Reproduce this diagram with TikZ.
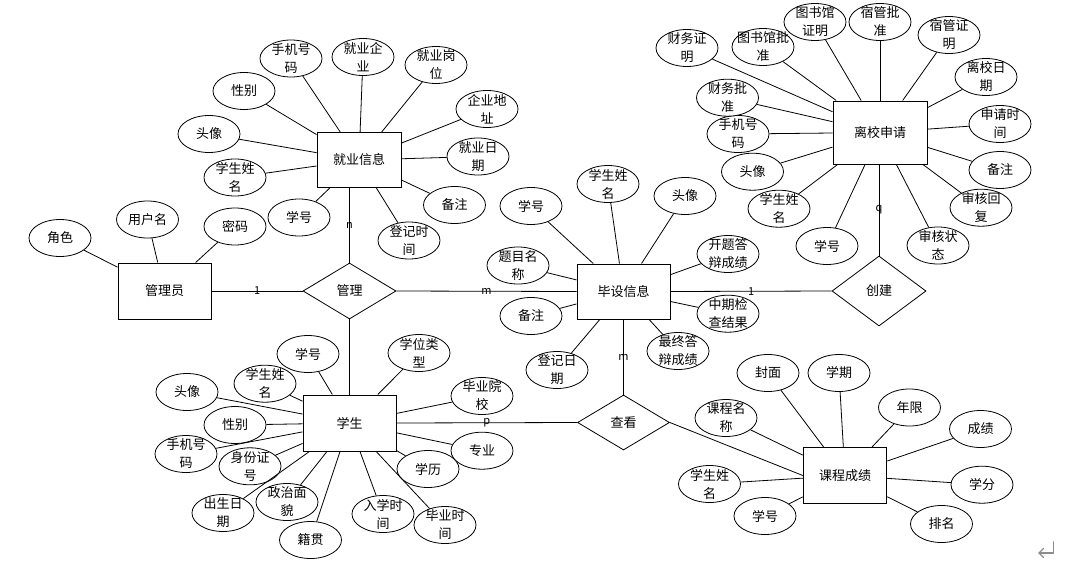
\documentclass[tikz,border=0pt]{standalone}
\usepackage{fontspec}
\setmainfont{Noto Sans CJK SC}
\usetikzlibrary{shapes.geometric}
\tikzset{
  ent/.style={draw, line width=1pt, rectangle, inner sep=0pt, fill=white},
  rel/.style={draw, line width=0.8pt, diamond, inner sep=0pt, fill=white},
  attr/.style={draw, line width=0.8pt, ellipse, minimum width=62pt, minimum height=37pt, inner sep=0pt, fill=white},
  lbl/.style={align=center, inner sep=0pt, font=\fontsize{13pt}{18pt}\selectfont},
  conn/.style={draw, line width=0.8pt},
  card/.style={inner sep=0pt, font=\fontsize{11pt}{13pt}\selectfont},
  retmark/.style={draw=black!45, line width=1.3pt, line cap=round, line join=round}
}
\newcommand\attrnode[3]{\node[attr, label={[lbl]center:{#3}}] (#1) at (#2) {};}
\begin{document}
\begin{tikzpicture}[x=1pt, y=-1pt, font=\fontsize{13pt}{18pt}\selectfont]
\useasboundingbox (0,0) rectangle (1074,581);
% entities
\node[ent, minimum width=93pt, minimum height=56pt] (gly) at (164.5,291) {管理员};
\node[ent, minimum width=84pt, minimum height=55pt] (jy) at (359,160) {就业信息};
\node[ent, minimum width=93pt, minimum height=55pt] (bs) at (623.5,291.5) {毕设信息};
\node[ent, minimum width=94pt, minimum height=63pt] (lx) at (880,132.5) {离校申请};
\node[ent, minimum width=93pt, minimum height=56pt] (xs) at (349.5,423) {学生};
\node[ent, minimum width=83.5pt, minimum height=56pt] (kc) at (845,475.5) {课程成绩};
% relationships
\node[rel, minimum width=93pt, minimum height=56pt] (gl) at (349.5,291) {管理};
\node[rel, minimum width=92pt, minimum height=55pt] (ck) at (623.5,422.5) {查看};
\node[rel, minimum width=94pt, minimum height=70pt] (cj) at (879,291) {创建};
% relationship connectors
\draw[conn] (gly.east) -- node[card] {1} (gl.west);
\draw[conn] (gl.east) -- node[card] {m} (bs.west);
\draw[conn] (bs.east) -- node[card] {1} (cj.west);
\draw[conn] (gl.north) -- node[card] {n} (gl.north |- jy.south);
\draw[conn] (cj.north) -- node[card] {q} (cj.north |- lx.south);
\draw[conn] (ck.north) -- node[card] {m} (ck.north |- bs.south);
\draw[conn] (xs.east) -- node[card] {p} (ck.west);
\draw[conn] (gl.south) -- (xs.north);
\draw[conn] (ck.east) -- (kc.west);
% 管理员 attributes
\attrnode{g1}{60,238}{角色}
\attrnode{g2}{147.5,219.5}{用户名}
\attrnode{g3}{235,226.5}{密码}
\foreach \a in {g1,g2,g3} \draw[conn] (\a) -- (gly);
% 就业信息 attributes
\attrnode{j1}{291,58.5}{手机号\\码}
\attrnode{j2}{363,57}{就业企\\业}
\attrnode{j3}{436,65}{就业岗\\位}
\attrnode{j4}{487,109}{企业地\\址}
\attrnode{j5}{478,156.5}{就业日\\期}
\attrnode{j6}{454.5,205}{备注}
\attrnode{j7}{409,240.5}{登记时\\间}
\attrnode{j8}{299,217.5}{学号}
\attrnode{j9}{235,177.5}{学生姓\\名}
\attrnode{j10}{209,134}{头像}
\attrnode{j11}{244,91}{性别}
\foreach \a in {j1,j2,j3,j4,j5,j6,j7,j8,j9,j10,j11} \draw[conn] (\a) -- (jy);
% 毕设信息 attributes
\attrnode{b1}{531,206}{学号}
\attrnode{b2}{608,184}{学生姓\\名}
\attrnode{b3}{685,196}{头像}
\attrnode{b4}{728,254}{开题答\\辩成绩}
\attrnode{b5}{728,313.7}{中期检\\查结果}
\attrnode{b6}{678,351}{最终答\\辩成绩}
\attrnode{b7}{557,370}{登记日\\期}
\attrnode{b8}{531,316}{备注}
\attrnode{b9}{518,265.5}{题目名\\称}
\foreach \a in {b1,b2,b3,b4,b5,b6,b7,b8,b9} \draw[conn] (\a) -- (bs);
% 离校申请 attributes
\attrnode{l1}{687,48}{财务证\\明}
\attrnode{l2}{763,47}{图书馆批\\准}
\attrnode{l3}{815,22}{图书馆\\证明}
\attrnode{l4}{880,22}{宿管批\\准}
\attrnode{l5}{949,35}{宿管证\\明}
\attrnode{l6}{986,77}{离校日\\期}
\attrnode{l7}{1000,124}{申请时\\间}
\attrnode{l8}{1000,170}{备注}
\attrnode{l9}{981,207.7}{审核回\\复}
\attrnode{l10}{938,245.5}{审核状\\态}
\attrnode{l11}{827,246}{学号}
\attrnode{l12}{779,208.7}{学生姓\\名}
\attrnode{l13}{752.5,171.7}{头像}
\attrnode{l14}{738,134}{手机号\\码}
\attrnode{l15}{727.5,97.7}{财务批\\准}
\foreach \a in {l1,l2,l3,l4,l5,l6,l7,l8,l9,l10,l11,l12,l13,l14,l15} \draw[conn] (\a) -- (lx);
% 学生 attributes
\attrnode{s1}{308,354}{学号}
\attrnode{s2}{265,383.7}{学生姓\\名}
\attrnode{s3}{187,392}{头像}
\attrnode{s4}{235,425}{性别}
\attrnode{s5}{186,454}{手机号\\码}
\attrnode{s6}{250,466.3}{身份证\\号}
\attrnode{s7}{223,513}{出生日\\期}
\attrnode{s8}{287,502}{政治面\\貌}
\attrnode{s9}{310.5,540}{籍贯}
\attrnode{s10}{383,514}{入学时\\间}
\attrnode{s11}{445,525}{毕业时\\间}
\attrnode{s12}{428,469}{学历}
\attrnode{s13}{482,450.7}{专业}
\attrnode{s14}{482,396}{毕业院\\校}
\attrnode{s15}{419,353}{学位类\\型}
\foreach \a in {s1,s2,s3,s4,s5,s6,s7,s8,s9,s10,s11,s12,s13,s14,s15} \draw[conn] (\a) -- (xs);
% 课程成绩 attributes
\attrnode{k1}{768,373}{封面}
\attrnode{k2}{839,373}{学期}
\attrnode{k3}{909.5,407.5}{年限}
\attrnode{k4}{980.5,429}{成绩}
\attrnode{k5}{982,484.7}{学分}
\attrnode{k6}{941.5,524}{排名}
\attrnode{k7}{765,516}{学号}
\attrnode{k8}{709.5,484}{学生姓\\名}
\attrnode{k9}{726,418}{课程名\\称}
\foreach \a in {k1,k2,k3,k4,k5,k6,k7,k8,k9} \draw[conn] (\a) -- (kc);
% paragraph mark
\draw[retmark] (1053.5,542) -- (1053.5,553) -- (1039,553);
\draw[retmark] (1043.5,548.5) -- (1039,553) -- (1043.5,557.5);
\end{tikzpicture}
\end{document}
